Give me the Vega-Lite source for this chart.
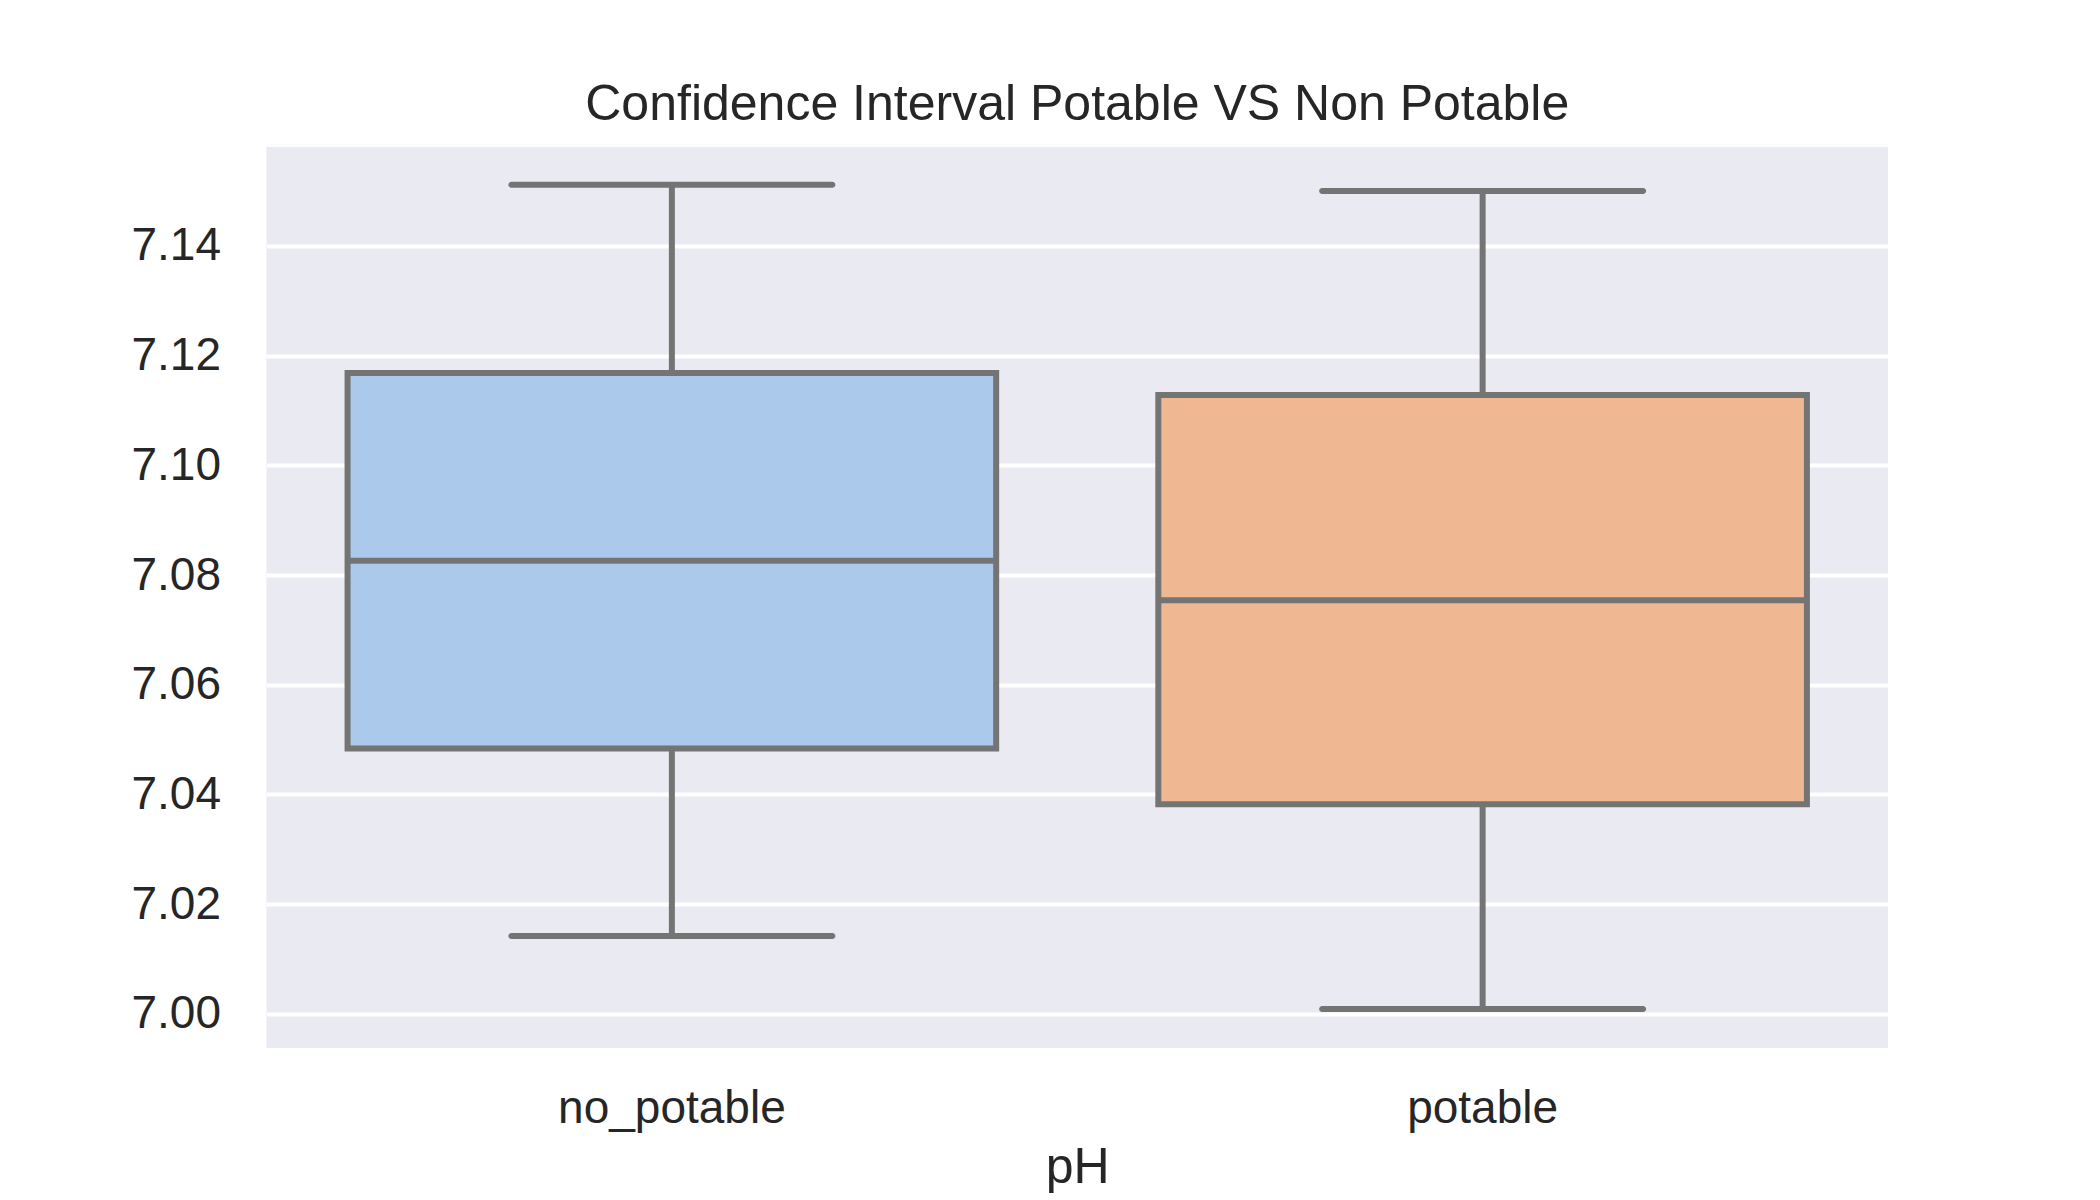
{
  "$schema": "https://vega.github.io/schema/vega-lite/v6.json",
  "autosize": {"type": "none"},
  "padding": {"left": 266.5, "top": 147, "right": 212, "bottom": 152},
  "width": 1621.5,
  "height": 901,
  "background": "white",
  "config": {
    "view": {"fill": "#eaeaf2", "stroke": null},
    "font": "Liberation Sans"
  },
  "title": {
    "text": "Confidence Interval Potable VS Non Potable",
    "font": "Liberation Sans",
    "fontSize": 50,
    "fontWeight": "normal",
    "color": "#262626",
    "anchor": "middle",
    "baseline": "alphabetic",
    "offset": 25,
    "dy": 48
  },
  "data": {
    "values": [
      {"group": "no_potable", "lower": 7.0142, "q1": 7.0484, "median": 7.0826, "q3": 7.1168, "upper": 7.1511},
      {"group": "potable", "lower": 7.0009, "q1": 7.0382, "median": 7.0754, "q3": 7.1128, "upper": 7.1500}
    ]
  },
  "encoding": {
    "x": {
      "field": "group",
      "type": "nominal",
      "sort": ["no_potable", "potable"],
      "scale": {"paddingInner": 0, "paddingOuter": 0},
      "axis": {
        "title": "pH",
        "labelAngle": 0,
        "labelLimit": 0,
        "labelFont": "Liberation Sans",
        "labelFontSize": 46,
        "labelColor": "#262626",
        "labelBaseline": "alphabetic",
        "labelPadding": 74,
        "ticks": false,
        "domain": false,
        "grid": false,
        "titleFont": "Liberation Sans",
        "titleFontSize": 50,
        "titleFontWeight": "normal",
        "titleColor": "#262626",
        "titleBaseline": "alphabetic",
        "titleY": 134
      }
    }
  },
  "layer": [
    {
      "mark": {"type": "rule", "strokeWidth": 6, "color": "#747474"},
      "encoding": {
        "y": {
          "field": "lower",
          "type": "quantitative",
          "title": null,
          "scale": {"domain": [6.9938, 7.158], "nice": false, "zero": false},
          "axis": {
            "values": [7.0, 7.02, 7.04, 7.06, 7.08, 7.1, 7.12, 7.14],
            "format": ".2f",
            "labelFont": "Liberation Sans",
            "labelFontSize": 46,
            "labelColor": "#262626",
            "labelPadding": 46,
            "ticks": false,
            "domain": false,
            "grid": true,
            "gridColor": "#ffffff",
            "gridWidth": 4.2,
            "title": null
          }
        },
        "y2": {"field": "upper"}
      }
    },
    {
      "mark": {"type": "bar", "width": {"band": 0.8}, "stroke": "#747474", "strokeWidth": 6},
      "encoding": {
        "y": {"field": "q1", "type": "quantitative", "title": null},
        "y2": {"field": "q3"},
        "fill": {
          "field": "group",
          "type": "nominal",
          "scale": {"domain": ["no_potable", "potable"], "range": ["#abc9ea", "#efb792"]},
          "legend": null
        }
      }
    },
    {
      "mark": {"type": "tick", "size": 648.6, "thickness": 6, "color": "#747474", "opacity": 1},
      "encoding": {
        "y": {"field": "median", "type": "quantitative", "title": null}
      }
    },
    {
      "mark": {"type": "tick", "size": 327, "thickness": 6, "color": "#747474", "opacity": 1, "cornerRadius": 3},
      "encoding": {
        "y": {"field": "lower", "type": "quantitative", "title": null}
      }
    },
    {
      "mark": {"type": "tick", "size": 327, "thickness": 6, "color": "#747474", "opacity": 1, "cornerRadius": 3},
      "encoding": {
        "y": {"field": "upper", "type": "quantitative", "title": null}
      }
    }
  ]
}
